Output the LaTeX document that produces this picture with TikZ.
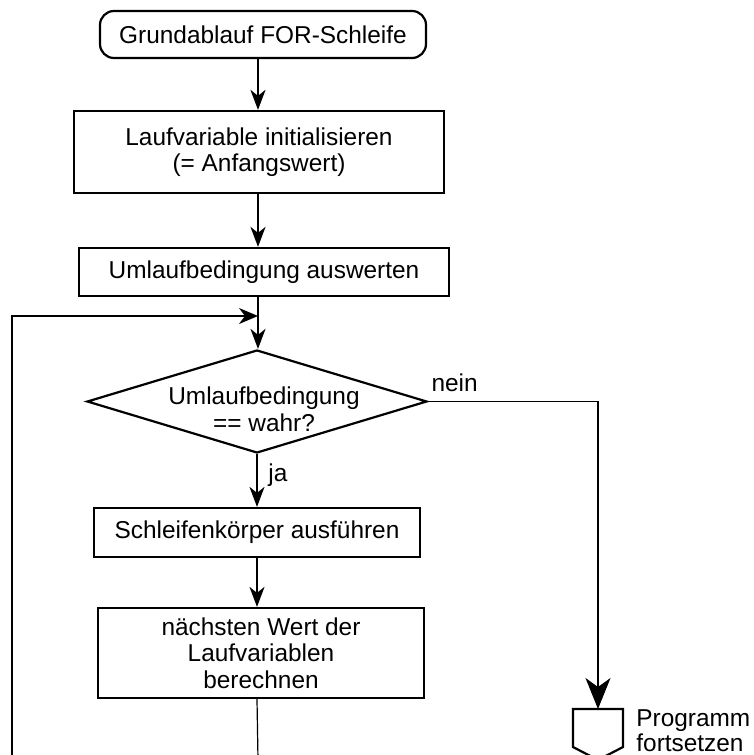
\documentclass[tikz,border=0pt]{standalone}
\usepackage{fontspec}
\setmainfont{Liberation Sans}
\usetikzlibrary{shapes.geometric,arrows.meta}

\begin{document}
\begin{tikzpicture}[x=0.5pt,y=-0.5pt,
  every node/.style={font=\fontsize{12.2}{13.3}\selectfont},
  box/.style={draw,line width=1.1pt,align=center,inner sep=0pt},
  tip/.style={line width=1pt,-{Stealth[length=10pt,width=7.5pt,inset=3pt]}},
  loopline/.style={line width=.6pt},
  looptip/.style={line width=.6pt,-{Stealth[length=9.5pt,width=8pt,inset=3pt]}},
  bigtip/.style={line width=.6pt,-{Stealth[length=15.5pt,width=12.5pt,inset=4.5pt]}}]

  \useasboundingbox (0,0) rectangle (754,755);
  \clip (0,0) rectangle (754,755);

  % steps
  \node[box,rounded corners=7pt,minimum width=163pt,minimum height=23.5pt] (start) at (263,34.5) {Grundablauf FOR-Schleife};
  \node[box,minimum width=185pt,minimum height=41pt] (init) at (259,152) {Laufvariable initialisieren\\(= Anfangswert)};
  \node[box,minimum width=185pt,minimum height=24pt] (cond) at (264,272) {Umlaufbedingung auswerten};
  \node[box,diamond,minimum width=170pt,minimum height=51.5pt] (test) at (257,401.5) {};
  \node[align=center,inner sep=0pt] (testtext) at (264,409) {Umlaufbedingung\\== wahr?};
  \node[box,minimum width=163pt,minimum height=24.5pt] (body) at (257,532.5) {Schleifenkörper ausführen};
  \node[box,minimum width=163pt,minimum height=45pt] (next) at (261,653) {nächsten Wert der\\Laufvariablen\\berechnen};

  % exit
  \draw[line width=1.1pt] (573,709) -- (623,709) -- (623,747) -- (598,760) -- (573,747) -- cycle;
  \coordinate (exit) at (598,709);
  \node[anchor=north west,inner sep=0pt,align=left,font=\fontsize{12.2}{12.8}\selectfont] (cont) at (636,709) {Programm\\fortsetzen};

  % arrows
  \coordinate (join) at (258,316);
  \coordinate (loopend) at (12,760);
  \coordinate (nextend) at (258,760);
  \draw[tip] (start.south -| join) -- (init.north -| join);
  \draw[tip] (init.south -| join) -- (cond.north -| join);
  \draw[line width=1pt] (cond.south -| join) -- (join);
  \draw[tip] (join) -- (test.north -| join);
  \draw[tip] (test.south) -- (body.north -| test.south);
  \draw[tip] (body.south -| test.south) -- (next.north -| test.south);
  \draw[loopline] (next.south -| test.south) -- (nextend);

  % loop & exit
  \draw[looptip] (loopend) |- (join);
  \draw[bigtip] (test.east) -| (exit);
  \node[anchor=south west,inner sep=0pt] (nein) at ([xshift=1.5pt,yshift=4.5pt]test.east) {nein};
  \node[anchor=north west,inner sep=0pt] (ja) at ([xshift=5.5pt,yshift=-4.5pt]test.south) {ja};

\end{tikzpicture}
\end{document}
